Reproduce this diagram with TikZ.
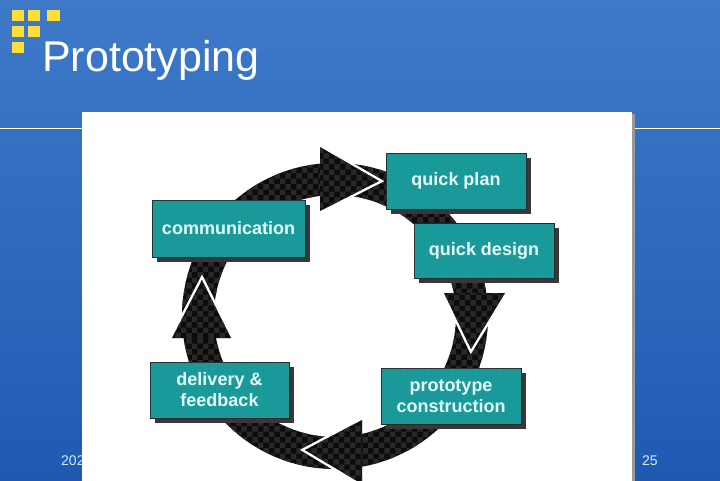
\documentclass[tikz,border=0pt]{standalone}
\usepackage{fontspec}
\setmainfont{Liberation Sans}
\usetikzlibrary{patterns,shadows}
\definecolor{bgtop}{RGB}{62,122,200}
\definecolor{bgbot}{RGB}{30,90,178}
\definecolor{sqyellow}{RGB}{255,222,56}
\definecolor{footc}{RGB}{215,232,252}
\definecolor{tealbox}{RGB}{24,152,152}
\definecolor{tealdot}{RGB}{58,172,172}
\definecolor{boxtext}{RGB}{228,252,250}
\definecolor{ringdark}{RGB}{12,12,12}
\definecolor{ringgray}{RGB}{40,40,40}
\tikzset{
  stage/.style={draw=black!85, line width=0.6pt, fill=tealbox, text=boxtext,
    font=\bfseries\fontsize{18}{21}\selectfont, align=center, inner sep=0pt,
    drop shadow={shadow xshift=5pt, shadow yshift=-5pt, fill=black!78, opacity=1},
    postaction={pattern=dots, pattern color=tealdot}},
  bandfill/.style={fill=ringdark, postaction={pattern=checkerboard, pattern color=ringgray}},
  notch/.style={draw=white, line width=5pt, line join=miter},
  logosq/.style={fill=sqyellow}
}
\begin{document}
\begin{tikzpicture}[x=1pt,y=-1pt]
\useasboundingbox (0,0) rectangle (720,480);
% background
\shade[top color=bgtop, bottom color=bgbot] (0,0) rectangle (720,480);
\draw[white, line width=1.3pt] (0,128.5) -- (720,128.5);
% logo squares
\fill[logosq] (12,10) rectangle (24,21);
\fill[logosq] (28,10) rectangle (40,21);
\fill[logosq] (47,10) rectangle (60,21);
\fill[logosq] (12,26) rectangle (24,37);
\fill[logosq] (28,26) rectangle (40,37);
\fill[logosq] (12,42) rectangle (24,53);
% title
\node[anchor=base west, inner sep=0pt, text=white, font=\fontsize{43}{50}\selectfont] (title) at (42,71) {Prototyping};
% footer
\node[anchor=base west, inner sep=0pt, text=footc, font=\fontsize{14}{16}\selectfont] (date) at (61,465) {202};
\node[anchor=base west, inner sep=0pt, text=footc, font=\fontsize{14}{16}\selectfont] (page) at (642,465) {25};
% panel
\fill[black!40] (84,114) rectangle (635,484);
\fill[white] (82,112) rectangle (632,484);
% ring
\coordinate (rc) at (335,316);
\path[bandfill, even odd rule] (rc) circle[radius=153pt] circle[radius=121pt];
% arrowheads
\coordinate (ta) at (320,147); \coordinate (tt) at (379,181); \coordinate (tb) at (320,211);
\coordinate (ra) at (444,293); \coordinate (rt) at (471,349); \coordinate (rb) at (505,293);
\coordinate (ba) at (362,420); \coordinate (bt) at (305,450); \coordinate (bb) at (362,484);
\coordinate (la) at (172,338); \coordinate (lt) at (202,280); \coordinate (lb) at (231,338);
\draw[notch] (ta) -- (tt) -- (tb);
\path[bandfill] (ta) -- (tt) -- (tb) -- cycle;
\draw[notch] (ra) -- (rt) -- (rb);
\path[bandfill] (ra) -- (rt) -- (rb) -- cycle;
\draw[notch] (ba) -- (bt) -- (bb);
\path[bandfill] (ba) -- (bt) -- (bb) -- cycle;
\draw[notch] (la) -- (lt) -- (lb);
\path[bandfill] (la) -- (lt) -- (lb) -- cycle;
% stages
\node[stage, minimum width=153pt, minimum height=57pt] (comm) at (228.5,228.5) {communication};
\node[stage, minimum width=140pt, minimum height=56pt] (qplan) at (456,181) {quick plan};
\node[stage, minimum width=140pt, minimum height=55pt] (qdesign) at (484,250.5) {quick design};
\node[stage, minimum width=140pt, minimum height=56pt] (proto) at (451,396) {prototype\\construction};
\node[stage, minimum width=139pt, minimum height=56pt] (deliv) at (219.5,390) {delivery \&\\feedback};
\end{tikzpicture}
\end{document}
